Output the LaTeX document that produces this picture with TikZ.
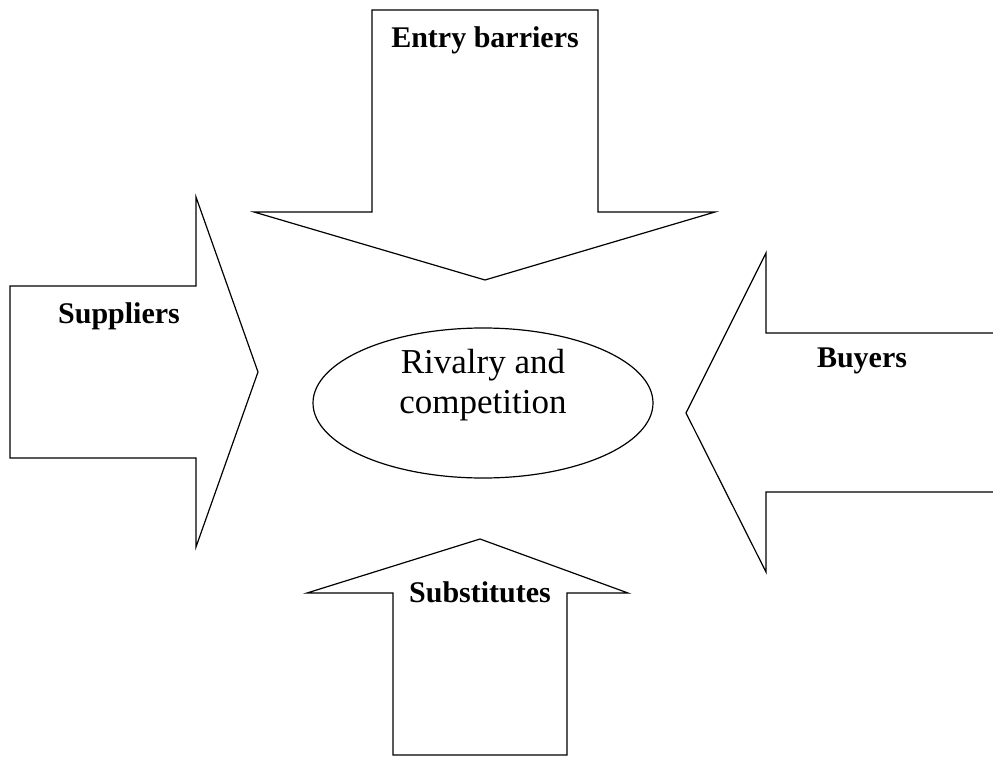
\documentclass[tikz,border=0pt]{standalone}
\usepackage{fontspec}
\setmainfont{Liberation Serif}
\usetikzlibrary{shapes.geometric}

\begin{document}
\begin{tikzpicture}[
	x=1pt, y=-1pt,
	force/.style = {draw=black, line width=1.2pt, line join=miter, fill=white},
	forcetext/.style = {text=black, anchor=base, inner sep=0pt, font=\fontsize{30}{36}\selectfont\bfseries},
	rivalry/.style = {draw=black, line width=1.2pt, ellipse, minimum width=340pt, minimum height=150pt, inner sep=0pt},
	rivalrytext/.style = {text=black, align=center, inner sep=0pt, font=\fontsize{35}{40}\selectfont}
]
	\useasboundingbox (0,0) rectangle (993,757);

	% the four forces
	\draw[force] (372,10) -- (598,10) -- (598,212) -- (715,212) -- (485,280) -- (254,212) -- (372,212) -- cycle;
	\draw[force] (10,286) -- (196,286) -- (196,197) -- (258,372) -- (196,547) -- (196,458) -- (10,458) -- cycle;
	\draw[force] (994,333) -- (766,333) -- (766,253) -- (686,413) -- (766,572) -- (766,492) -- (994,492);
	\draw[force] (393,755) -- (393,593) -- (307,593) -- (480,539) -- (628,593) -- (567,593) -- (567,755) -- cycle;

	\node[forcetext] (entry) at (485,48) {Entry barriers};
	\node[forcetext] (suppliers) at (119,323) {Suppliers};
	\node[forcetext] (buyers) at (862,367) {Buyers};
	\node[forcetext] (substitutes) at (480,602) {Substitutes};

	% centre
	\node[rivalry] (core) at (483,403) {};
	\node[rivalrytext] (coretext) at (483,385) {Rivalry and\\competition};
\end{tikzpicture}
\end{document}
